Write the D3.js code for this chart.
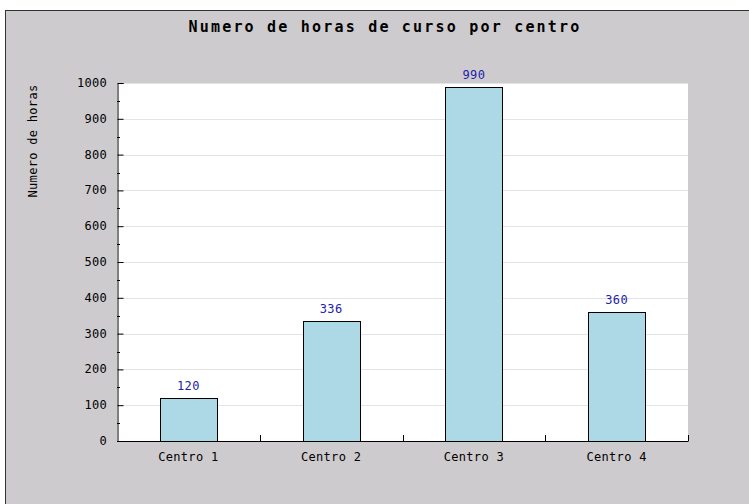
<!DOCTYPE html>
<html>
<head>
<meta charset="utf-8">
<script src="https://cdn.jsdelivr.net/npm/d3@7"></script>
<style>
  body { margin: 0; background: #fff; }
  svg { display: block; }
  text { font-family: "DejaVu Sans Mono", monospace; }
</style>
</head>
<body>
<figure id="bar-chart" style="margin:0"></figure>
<script>
const centros = ['Centro 1', 'Centro 2', 'Centro 3', 'Centro 4'];
const horas = [120, 336, 990, 360];
const yTicks = [0, 100, 200, 300, 400, 500, 600, 700, 800, 900, 1000];

const width = 749, height = 504;
const plot = { left: 117, top: 83, right: 688, bottom: 441 };

const svg = d3.select('figure#bar-chart')
  .append('svg')
  .attr('width', width)
  .attr('height', height);

// outer frame
svg.append('rect')
  .attr('x', 5.5).attr('y', 10.5)
  .attr('width', width + 10).attr('height', height + 10)
  .attr('fill', '#cecbce')
  .attr('stroke', '#333');

// plot background
svg.append('rect')
  .attr('x', plot.left).attr('y', plot.top)
  .attr('width', plot.right - plot.left).attr('height', plot.bottom - plot.top)
  .attr('fill', '#fff');

const xScale = d3.scaleBand()
  .domain(centros)
  .range([plot.left, plot.right])
  .paddingInner(0.6)
  .paddingOuter(0.3);

const xBand = d3.scaleBand()
  .domain(centros)
  .range([plot.left, plot.right]);

const yScale = d3.scaleLinear()
  .domain([0, 1000])
  .range([plot.bottom, plot.top]);

// grid lines
svg.append('g')
  .selectAll('line')
  .data(yTicks.filter(d => d > 0))
  .join('line')
  .attr('x1', plot.left).attr('x2', plot.right)
  .attr('y1', d => Math.round(yScale(d)) + 0.5)
  .attr('y2', d => Math.round(yScale(d)) + 0.5)
  .attr('stroke', '#e4e4e4');

// bars
svg.append('g')
  .selectAll('rect')
  .data(horas)
  .join('rect')
  .attr('x', (d, i) => Math.round(xScale(centros[i])) + 0.5)
  .attr('y', d => Math.round(yScale(d)) + 0.5)
  .attr('width', Math.round(xScale.bandwidth()))
  .attr('height', d => Math.round(plot.bottom - yScale(d)))
  .attr('fill', '#add8e6')
  .attr('stroke', '#000');

// value labels
svg.append('g')
  .selectAll('text')
  .data(horas)
  .join('text')
  .text(d => d)
  .attr('x', (d, i) => xScale(centros[i]) + xScale.bandwidth() / 2)
  .attr('y', d => yScale(d) - 8)
  .attr('text-anchor', 'middle')
  .attr('font-size', 12)
  .attr('letter-spacing', 0.3)
  .attr('fill', '#2222aa');

// y axis (ticks point inwards)
const yAxis = svg.append('g')
  .attr('transform', `translate(${plot.left + 0.5},0)`)
  .call(d3.axisRight(yScale).tickValues(yTicks).tickSize(6).tickFormat(''));
yAxis.select('.domain').attr('stroke', '#000');

// minor ticks
svg.append('g')
  .selectAll('line')
  .data(d3.range(50, 1000, 100))
  .join('line')
  .attr('x1', plot.left).attr('x2', plot.left + 3)
  .attr('y1', d => Math.round(yScale(d)) + 0.5)
  .attr('y2', d => Math.round(yScale(d)) + 0.5)
  .attr('stroke', '#000');

svg.append('g')
  .selectAll('text')
  .data(yTicks)
  .join('text')
  .text(d => d)
  .attr('x', plot.left - 10)
  .attr('y', d => yScale(d) + 4)
  .attr('text-anchor', 'end')
  .attr('font-size', 12)
  .attr('letter-spacing', 0.3)
  .attr('fill', '#000');

// x axis
svg.append('line')
  .attr('x1', plot.left).attr('x2', plot.right + 0.5)
  .attr('y1', plot.bottom + 0.5).attr('y2', plot.bottom + 0.5)
  .attr('stroke', '#000');

svg.append('g')
  .selectAll('line')
  .data(centros)
  .join('line')
  .attr('x1', d => Math.round(xBand(d) + xBand.bandwidth()) + 0.5)
  .attr('x2', d => Math.round(xBand(d) + xBand.bandwidth()) + 0.5)
  .attr('y1', plot.bottom)
  .attr('y2', plot.bottom - 6)
  .attr('stroke', '#000');

svg.append('g')
  .selectAll('text')
  .data(centros)
  .join('text')
  .text(d => d)
  .attr('x', d => xBand(d) + xBand.bandwidth() / 2)
  .attr('y', plot.bottom + 20)
  .attr('text-anchor', 'middle')
  .attr('font-size', 12)
  .attr('letter-spacing', 0.3)
  .attr('fill', '#000');

// title
svg.append('text')
  .text('Numero de horas de curso por centro')
  .attr('x', 385)
  .attr('y', 32)
  .attr('text-anchor', 'middle')
  .attr('font-size', 15)
  .attr('font-weight', 'bold')
  .attr('letter-spacing', 2.2)
  .attr('fill', '#000');

// y axis title
svg.append('text')
  .text('Numero de horas')
  .attr('transform', 'translate(37,141) rotate(-90)')
  .attr('text-anchor', 'middle')
  .attr('font-size', 12)
  .attr('letter-spacing', 0.3)
  .attr('fill', '#000');
</script>
</body>
</html>
